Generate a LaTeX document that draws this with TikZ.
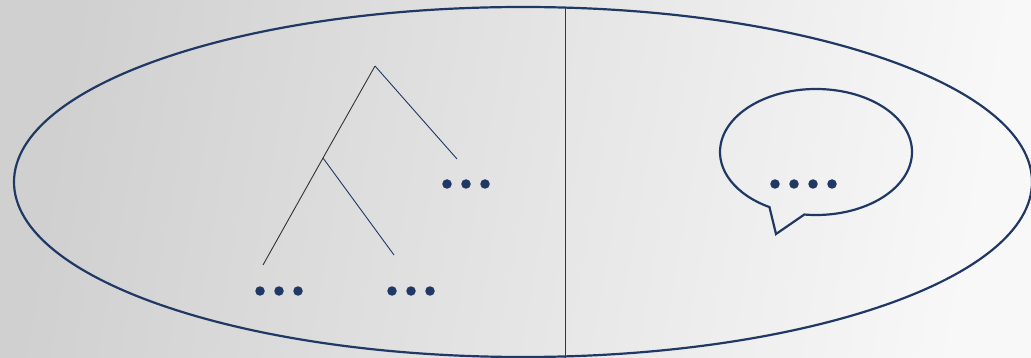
\documentclass[tikz,border=0pt]{standalone}
\usetikzlibrary{shapes.geometric}
\definecolor{navy}{HTML}{1F3864}
\definecolor{bgl}{HTML}{D0D0D0}
\definecolor{bgr}{HTML}{F8F8F8}
\tikzset{
  outline/.style={draw=navy, line width=2.2pt},
  branch/.style={draw=navy, line width=0.9pt},
  darkbranch/.style={draw=black!80, line width=0.9pt},
  dot/.style={circle, fill=navy, inner sep=0pt, minimum size=9.5pt},
}
\begin{document}
\begin{tikzpicture}[x=1pt,y=-1pt]
\useasboundingbox (0,0) rectangle (1031,358);
\clip (0,0) rectangle (1031,358);
\shade[left color=bgl, right color=bgr, shading angle=80] (0,0) rectangle (1031,358);
% big ellipse
\node[outline, ellipse, minimum width=1018pt, minimum height=350pt, inner sep=0pt] (big) at (523,182) {};
% divider
\coordinate (divtop) at (565,8);
\coordinate (divbot) at (565,358);
\draw[branch] (divtop) -- (divbot);
% tree
\coordinate (root) at (375,66);
\coordinate (rend) at (457,159);
\coordinate (mid) at (323,158);
\coordinate (lend) at (263,265);
\coordinate (mend) at (394,255);
\draw[darkbranch] (root) -- (mid) -- (lend);
\draw[branch] (root) -- (rend);
\draw[branch] (mid) -- (mend);
% tree dots
\foreach \x [count=\i] in {447,466,485} \node[dot] (r\i) at (\x,184) {};
\foreach \x [count=\i] in {260,279,298} \node[dot] (l\i) at (\x,291) {};
\foreach \x [count=\i] in {392,411,430} \node[dot] (m\i) at (\x,291) {};
% speech bubble
\coordinate (bc) at (816,152);
\coordinate (tailtip) at (776,234);
\draw[outline, line join=miter]
  (bc) ++(97:96 and 63) coordinate (tailB)
  arc[start angle=97, end angle=-241, x radius=96, y radius=63]
  -- (tailtip) -- cycle;
\foreach \x [count=\i] in {775,794,813,832} \node[dot] (b\i) at (\x,184) {};
\end{tikzpicture}
\end{document}
